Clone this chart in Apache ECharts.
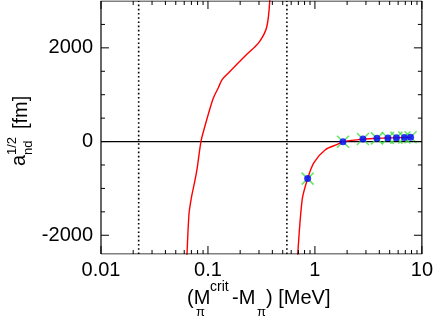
<!DOCTYPE html>
<html><head><meta charset="utf-8">
<script src="https://cdn.jsdelivr.net/npm/echarts@6/dist/echarts.min.js"></script>
<style>html,body{margin:0;padding:0;background:#fff}#c{width:436px;height:316px}</style>
</head><body><div id="c"></div>
<script>
// ---- data ----
const branch1X = [0.0630, 0.0664, 0.0700, 0.0745, 0.0789, 0.0860, 0.0918, 0.111, 0.125, 0.136, 0.157, 0.231, 0.300, 0.354, 0.379];
const branch1Y = [-2700, -1561, -1200, -900, -599, 0, 257, 898, 1150, 1326, 1476, 1861, 2118, 2439, 3040];
const branch2X = [0.679, 0.760, 0.855, 0.979, 1.259, 1.606, 1.83, 2.81, 3.80, 4.81, 5.78, 6.86, 7.84];
const branch2Y = [-2700, -1241, -791, -449, -171, -64, -5, 53, 68, 77, 81, 86, 92];
const pointX = [0.855, 1.83, 2.81, 3.80, 4.81, 5.78, 6.86, 7.84];
const pointY = [-791, -5, 53, 68, 77, 81, 86, 92];
const dottedX = [0.0225, 0.547];
const zeroLineX = [0.01, 10];
const zeroLineY = [0, 0];
const xMajorTicks = [0.01, 0.1, 1, 10];
const xMinorTicks = [0.02,0.03,0.04,0.05,0.06,0.07,0.08,0.09,0.2,0.3,0.4,0.5,0.6,0.7,0.8,0.9,2,3,4,5,6,7,8,9];
const yMajorTicks = [-2000, 0, 2000];
const yMinorTicks = [-1500, -1000, -500, 500, 1000, 1500, 2500];
const X_MIN = 0.01, X_MAX = 10, Y_MIN = -2400, Y_MAX = 3000;

const zip = (xs, ys) => xs.map((x, i) => [x, ys[i]]);
const FONT = 'Liberation Sans, Arial, Helvetica, sans-serif';
const AX = '#000000';

// plot box in pixels (used for tick lengths only)
const GRID = { left: 101, right: 13, top: 1, bottom: 62 };
const plotW = 436 - GRID.left - GRID.right, plotH = 316 - GRID.top - GRID.bottom;
const unitsPerPxY = (Y_MAX - Y_MIN) / plotH;
const decadesPerPxX = Math.log10(X_MAX / X_MIN) / plotW;

function seg(data, width) {
  return { type: 'line', data: data, symbol: 'none', silent: true, z: 6,
    lineStyle: { color: AX, width: width || 1 } };
}
const tickSeries = [];
function addXTick(v, len) {
  const d = len * unitsPerPxY;
  tickSeries.push(seg([[v, Y_MIN], [v, Y_MIN + d]]));
  tickSeries.push(seg([[v, Y_MAX], [v, Y_MAX - d]]));
}
function addYTick(v, len) {
  const f = Math.pow(10, len * decadesPerPxX);
  tickSeries.push(seg([[X_MIN, v], [X_MIN * f, v]]));
  tickSeries.push(seg([[X_MAX, v], [X_MAX / f, v]]));
}
xMajorTicks.forEach(v => addXTick(v, 8));
xMinorTicks.forEach(v => addXTick(v, 4));
yMajorTicks.forEach(v => addYTick(v, 8));
yMinorTicks.forEach(v => addYTick(v, 4));
const frame = seg([[X_MIN, Y_MIN], [X_MAX, Y_MIN], [X_MAX, Y_MAX], [X_MIN, Y_MAX], [X_MIN, Y_MIN]], 1.2);

function txt(x, y, s, size, opts) {
  return Object.assign({
    type: 'text', x: x, y: y,
    style: { text: s, fontSize: size, fontFamily: FONT, fill: '#000', textAlign: 'left', textVerticalAlign: 'middle' }
  }, opts || {});
}
const R = { rotation: Math.PI / 2 };

const chart = echarts.init(document.getElementById('c'));
chart.setOption({
  animation: false,
  grid: GRID,
  xAxis: {
    type: 'log', min: X_MIN, max: X_MAX,
    axisLine: { show: false, onZero: false }, axisTick: { show: false },
    axisLabel: { show: true, color: '#000', fontSize: 20, fontFamily: FONT, margin: 6 },
    splitLine: { show: false }
  },
  yAxis: {
    type: 'value', min: Y_MIN, max: Y_MAX,
    axisLine: { show: false, onZero: false }, axisTick: { show: false },
    axisLabel: { show: true, customValues: yMajorTicks, color: '#000', fontSize: 20, fontFamily: FONT, margin: 8, formatter: v => String(v) },
    splitLine: { show: false }
  },
  series: [
    { type: 'line', data: zip(zeroLineX, zeroLineY), symbol: 'none', lineStyle: { color: '#000', width: 1.2 }, z: 1 },
    { type: 'line', data: zip([dottedX[0], dottedX[0]], [Y_MIN, Y_MAX]), symbol: 'none', lineStyle: { color: '#000', width: 1.6, type: [1.6, 2.6] }, z: 1 },
    { type: 'line', data: zip([dottedX[1], dottedX[1]], [Y_MIN, Y_MAX]), symbol: 'none', lineStyle: { color: '#000', width: 1.6, type: [1.6, 2.6] }, z: 1 },
    { type: 'line', data: zip(branch1X, branch1Y), symbol: 'none', smooth: 0.3, lineStyle: { color: '#ff0000', width: 1.4 }, z: 2 },
    { type: 'line', data: zip(branch2X, branch2Y), symbol: 'none', smooth: 0.3, lineStyle: { color: '#ff0000', width: 1.4 }, z: 2 },
    { type: 'scatter', data: zip(pointX, pointY), symbol: 'path://M0,0L10,10M10,0L0,10', symbolSize: 12,
      itemStyle: { color: 'rgba(0,0,0,0)', borderColor: '#3ee03e', borderWidth: 1.5 }, z: 3 },
    { type: 'scatter', data: zip(pointX, pointY), symbol: 'circle', symbolSize: 7,
      itemStyle: { color: '#0000ff' }, z: 4 },
    frame
  ].concat(tickSeries),
  graphic: [
    txt(187, 298, '(M', 20),
    txt(210, 287, 'crit', 14),
    txt(196, 312, 'π', 13),
    txt(232, 298, '-M', 20),
    txt(257, 312, 'π', 13),
    txt(266, 298, ') [MeV]', 20),
    txt(19, 166, 'a', 20, R),
    txt(12, 155, '1/2', 13, R),
    txt(28, 155, 'nd', 13, R),
    txt(21, 129, '[fm]', 20, R)
  ]
});
</script></body></html>
